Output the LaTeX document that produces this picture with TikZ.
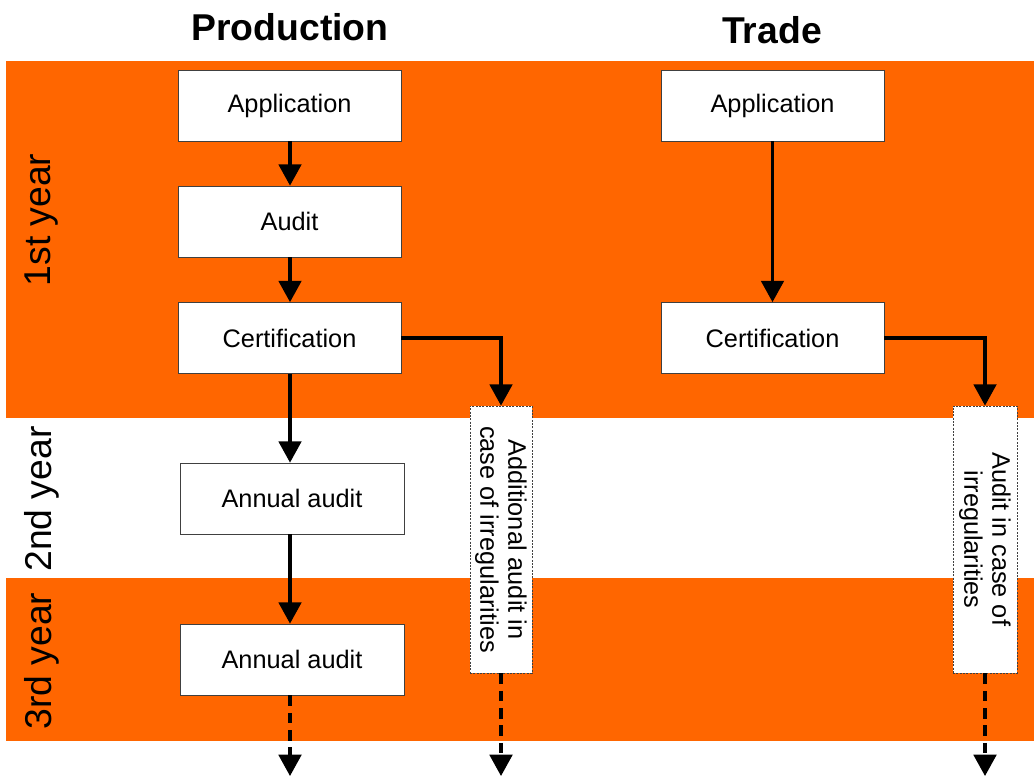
\documentclass[tikz,border=0pt]{standalone}
\usepackage{fontspec}
\setmainfont{Liberation Sans}
\usetikzlibrary{arrows.meta}
\definecolor{band}{HTML}{FF6600}
\tikzset{
  stepbox/.style={draw=black!75, line width=0.6pt, fill=white, minimum width=223*0.75pt, minimum height=71*0.75pt, inner sep=0pt, font=\fontsize{19}{21}\selectfont},
  dbox/.style={draw=black!75, line width=0.6pt, dash pattern=on 1.5pt off 1pt, fill=white, minimum width=62*0.75pt, minimum height=267*0.75pt, inner sep=0pt},
  dtext/.style={rotate=-90, align=center, font=\fontsize{19}{21}\selectfont},
  yearlbl/.style={rotate=90, font=\fontsize{28}{30}\selectfont},
  title/.style={font=\fontsize{28}{30}\selectfont\bfseries},
  arr/.style={line width=2.3pt, -{Triangle[length=16pt,width=17pt]}},
  darr/.style={arr, dash pattern=on 8pt off 5pt},
}
\begin{document}
\begin{tikzpicture}[x=0.75pt,y=-0.75pt]
\useasboundingbox (0,0) rectangle (1034,776);
\fill[band] (6,61) rectangle (1034,418);
\fill[band] (6,578) rectangle (1034,741);

\node[title] (tprod) at (290,27) {Production};
\node[title] (ttrade) at (772,30) {Trade};

\node[yearlbl] (y1) at (42,220) {1st year};
\node[yearlbl] (y2) at (42,499) {2nd year};
\node[yearlbl] (y3) at (42,661) {3rd year};

\node[stepbox] (pa) at (289.5,105.5) {Application};
\node[stepbox] (pau) at (289.5,221.5) {Audit};
\node[stepbox] (pc) at (289.5,338) {Certification};
\node[stepbox, minimum width=224*0.75pt] (pa2) at (292,498.5) {Annual audit};
\node[stepbox, minimum width=224*0.75pt] (pa3) at (292,659.5) {Annual audit};

\node[stepbox] (ta) at (772.5,105.5) {Application};
\node[stepbox] (tc) at (772.5,338) {Certification};

\node[dbox] (dadd) at (501,539.5) {};
\node[dtext] (daddt) at (dadd.center) {Additional audit in\\case of irregularities};
\node[dbox, minimum width=64*0.75pt] (dtr) at (985,539.5) {};
\node[dtext] (dtrt) at (dtr.center) {Audit in case of\\irregularities};

\coordinate (endA) at (290,776);
\coordinate (endB) at (501,776);
\coordinate (endC) at (985,776);

\draw[arr] (pa.south -| 290,0) -- (pau.north -| 290,0);
\draw[arr] (pau.south -| 290,0) -- (pc.north -| 290,0);
\draw[arr] (pc.south -| 290,0) -- (pa2.north -| 290,0);
\draw[arr] (pa2.south -| 290,0) -- (pa3.north -| 290,0);
\draw[darr] (pa3.south -| 290,0) -- (endA);
\draw[arr] (pc.east) -| (dadd.north);
\draw[darr] (dadd.south) -- (endB);

\draw[arr] (ta.south) -- (tc.north);
\draw[arr] (tc.east) -| (dtr.north);
\draw[darr] (dtr.south) -- (endC);
\end{tikzpicture}
\end{document}
